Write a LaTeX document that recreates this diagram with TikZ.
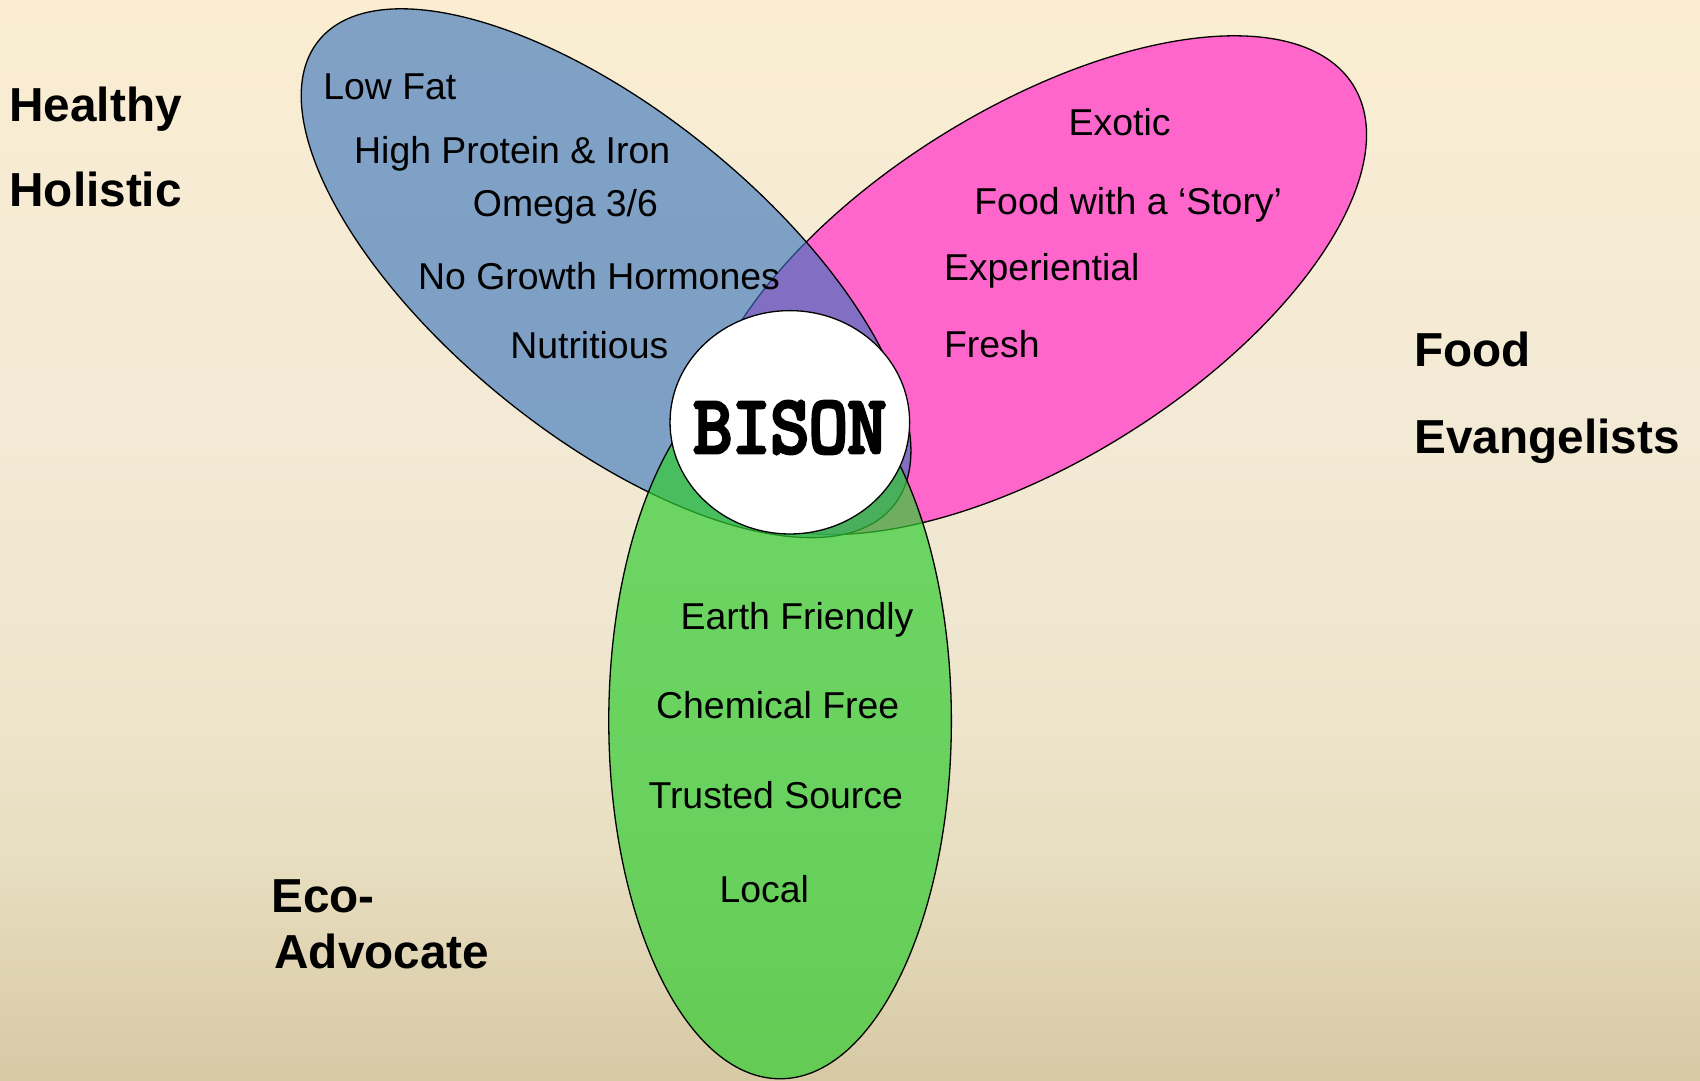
\documentclass[tikz,border=0pt]{standalone}
\usepackage{fontspec}
\usepackage{graphicx}
\setmainfont{Liberation Sans}
\newfontfamily\bisonfont{Latin Modern Mono}[FakeBold=5]
\definecolor{pinkfill}{RGB}{255,102,204}
\definecolor{bluefill}{RGB}{55,116,189}
\definecolor{greenfill}{RGB}{51,204,51}
\definecolor{bgA}{RGB}{250,237,210}
\definecolor{bgB}{RGB}{243,234,213}
\definecolor{bgC}{RGB}{238,229,205}
\definecolor{bgD}{RGB}{231,221,191}
\definecolor{bgE}{RGB}{215,201,164}
\begin{document}
\begin{tikzpicture}[x=1pt,y=-1pt,
  outline/.style={draw=black,line width=1.2pt},
  item/.style={font=\fontsize{34.5}{40}\selectfont,anchor=base west,inner sep=0pt},
  grouplabel/.style={font=\fontsize{44}{52}\selectfont\bfseries,anchor=base west,inner sep=0pt},
  bisonlabel/.style={font=\fontsize{69}{69}\selectfont\bisonfont,anchor=center,inner sep=0pt}]
\useasboundingbox (0,0) rectangle (1568,997);
% background
\fill[top color=bgA,bottom color=bgB] (0,0) rectangle (1568,401);
\fill[top color=bgB,bottom color=bgC] (0,400) rectangle (1568,651);
\fill[top color=bgC,bottom color=bgD] (0,650) rectangle (1568,801);
\fill[top color=bgD,bottom color=bgE] (0,800) rectangle (1568,997);
% ellipses
\draw[outline,fill=pinkfill,shift={(953,263)},rotate=32] (0,0) ellipse [x radius=348,y radius=162];
\draw[outline,fill=bluefill,fill opacity=0.625,shift={(559,252)},rotate=-39] (0,0) ellipse [x radius=341,y radius=149];
\draw[outline,fill=greenfill,fill opacity=0.7] (719.5,665) ellipse [x radius=158,y radius=330];
\draw[outline,fill=white] (728.5,389.5) ellipse [x radius=110.5,y radius=103];
\node[bisonlabel] (bison) at (728.5,394.3) {\scalebox{1}[1.09]{BISON}};
% healthy items
\node[item] (lowfat) at (298,92) {Low Fat};
\node[item] (protein) at (326.5,151) {High Protein \& Iron};
\node[item] (omega) at (436,200) {Omega 3/6};
\node[item] (hormones) at (385.5,267) {No Growth Hormones};
\node[item] (nutritious) at (470.5,331) {Nutritious};
% food evangelist items
\node[item] (exotic) at (985.5,125) {Exotic};
\node[item] (story) at (898.5,198) {Food with a ‘Story’};
\node[item] (experiential) at (870.5,259) {Experiential};
\node[item] (fresh) at (870.5,330) {Fresh};
% eco items
\node[item] (earth) at (627.5,581) {Earth Friendly};
\node[item] (chemical) at (605,663) {Chemical Free};
\node[item] (trusted) at (598,746) {Trusted Source};
\node[item] (local) at (663.5,832) {Local};
% group labels
\node[grouplabel] (healthy) at (8.5,112) {Healthy};
\node[grouplabel] (holistic) at (8.5,190.6) {Holistic};
\node[grouplabel] (food) at (1304.5,338) {Food};
\node[grouplabel] (evangelists) at (1304.5,418) {Evangelists};
\node[grouplabel] (eco) at (250,842) {Eco-};
\node[grouplabel] (advocate) at (253,893) {Advocate};
\end{tikzpicture}
\end{document}
